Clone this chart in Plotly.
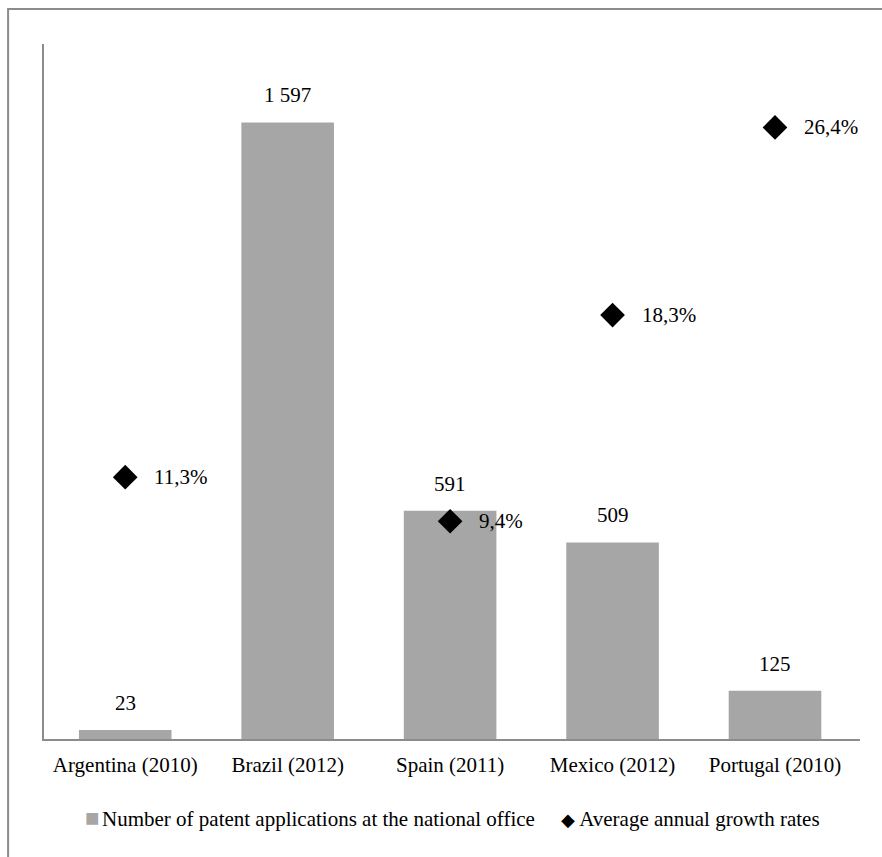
import plotly.graph_objects as go

# Data
countries = ["Argentina (2010)", "Brazil (2012)", "Spain (2011)", "Mexico (2012)", "Portugal (2010)"]
applications = [23, 1597, 591, 509, 125]
growth_countries = ["Argentina (2010)", "Spain (2011)", "Mexico (2012)", "Portugal (2010)"]
growth_rates = [11.3, 9.4, 18.3, 26.4]

bar_name = "Number of patent applications at the national office"
growth_name = "Average annual growth rates"

FONT = "Liberation Serif"
FS = 21
BAR_COLOR = "#A6A6A6"
AXIS_COLOR = "#8C8C8C"

fig = go.Figure()

fig.add_trace(go.Bar(
    x=countries, y=applications, name=bar_name,
    marker=dict(color=BAR_COLOR, line=dict(width=0)),
    width=0.57,
))

fig.add_trace(go.Scatter(
    x=growth_countries, y=growth_rates, yaxis="y2", mode="markers",
    marker=dict(symbol="diamond", size=19, color="black"),
    name=growth_name,
))


def fmt_int(v):
    return f"{v:,}".replace(",", " ")


annotations = []
for c, v in zip(countries, applications):
    annotations.append(dict(
        x=c, y=v, xref="x", yref="y", text=fmt_int(v), showarrow=False,
        yanchor="bottom", yshift=13, font=dict(family=FONT, size=FS, color="black"),
    ))
for c, v in zip(growth_countries, growth_rates):
    annotations.append(dict(
        x=c, y=v, xref="x", yref="y2", text=f"{v:.1f}%".replace(".", ","),
        showarrow=False, xanchor="left", xshift=27,
        font=dict(family=FONT, size=FS, color="black"),
    ))

# legend row below the categories
gap_small = "<span style='font-size:10px'>&nbsp;</span>"
gap_wide = "<span style='font-size:16px'>&nbsp;</span>"
legend_text = (
    f"<span style='color:{BAR_COLOR}; font-size:24px'>■</span>{gap_small}{bar_name}"
    "&nbsp;&nbsp;&nbsp;&nbsp;&nbsp;"
    f"<span style='color:black; font-size:18px'>◆</span>{gap_wide}{growth_name}"
)
annotations.append(dict(
    x=0.5, y=-0.113, xref="paper", yref="paper", text=legend_text,
    showarrow=False, xanchor="center", yanchor="middle",
    font=dict(family=FONT, size=FS, color="black"),
))

fig.update_layout(
    width=882, height=857,
    margin=dict(l=44, r=22, t=44, b=118),
    paper_bgcolor="white", plot_bgcolor="white",
    font=dict(family=FONT, size=FS, color="black"),
    bargap=0.43,
    showlegend=False,
    xaxis=dict(
        showline=True, linecolor=AXIS_COLOR, linewidth=2, ticks="",
        showgrid=False, ticklabelstandoff=6,
        tickfont=dict(family=FONT, size=FS, color="black"),
    ),
    yaxis=dict(
        range=[0, 1800], showline=True, linecolor=AXIS_COLOR, linewidth=2,
        showgrid=False, zeroline=False, showticklabels=False, ticks="",
    ),
    yaxis2=dict(
        range=[0, 30], overlaying="y", side="right", visible=False,
        showgrid=False, zeroline=False,
    ),
    annotations=annotations,
    shapes=[dict(
        type="rect", xref="paper", yref="paper",
        x0=-0.044, x1=1.2, y0=-0.3, y1=1.0504,
        line=dict(color="#8C8C8C", width=2), fillcolor="rgba(0,0,0,0)", layer="below",
    )],
)

fig.write_html("out.html")
